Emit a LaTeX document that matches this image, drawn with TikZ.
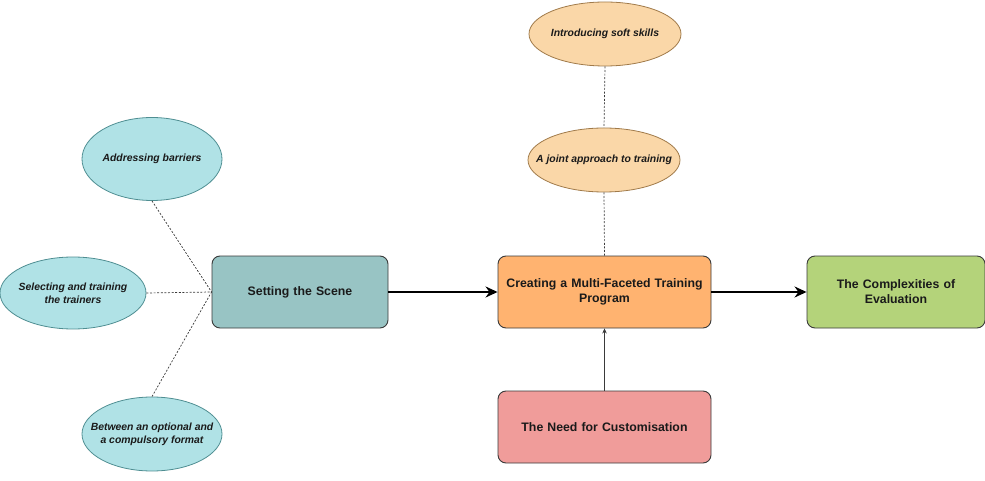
\documentclass[tikz,border=0pt]{standalone}
\usepackage{fontspec}
\setmainfont{Liberation Sans}
\usetikzlibrary{shapes.geometric,arrows.meta}

\definecolor{tealfill}{HTML}{B0E2E6}
\definecolor{tealline}{HTML}{4F8E92}
\definecolor{scenefill}{HTML}{98C4C4}
\definecolor{orangefill}{HTML}{FFB370}
\definecolor{peachfill}{HTML}{FAD7A8}
\definecolor{peachline}{HTML}{A07A4A}
\definecolor{pinkfill}{HTML}{F09C9A}
\definecolor{greenfill}{HTML}{B4D37A}
\definecolor{edgegray}{HTML}{3A3A3A}
\definecolor{inkgray}{HTML}{1A1A1A}

\tikzset{
  topic/.style={draw=edgegray, line width=0.9pt, rounded corners=8pt,
    minimum width=176pt, minimum height=72pt, inner sep=2pt,
    align=center, text width=168pt, font=\fontsize{12.3}{15}\selectfont\bfseries,
    text=inkgray},
  widetopic/.style={topic, minimum width=213pt, text width=205pt},
  idea/.style={ellipse, draw=tealline, line width=0.8pt, fill=tealfill,
    minimum width=142pt, minimum height=78pt, inner xsep=-18pt, inner ysep=0pt,
    align=center, font=\fontsize{10.4}{13.3}\selectfont\bfseries\itshape, text=inkgray},
  peachidea/.style={idea, draw=peachline, fill=peachfill,
    minimum width=152pt, minimum height=64pt},
  link/.style={draw=edgegray, line width=0.7pt, dash pattern=on 2pt off 1.6pt},
  flow/.style={draw=black, line width=1.7pt, -{Stealth[length=12pt,width=11pt]}},
  feed/.style={draw=edgegray, line width=0.7pt, -{Stealth[length=5pt,width=4.5pt]}}
}

\begin{document}
\begin{tikzpicture}[x=1pt, y=-1pt]
  \useasboundingbox (0,0) rectangle (985,481);

  % main chain
  \node[topic, fill=scenefill] (scene) at (300,292) {Setting the Scene};
  \node[widetopic, fill=orangefill] (create) at (604.5,292)
    {Creating a Multi-Faceted Training\\Program};
  \node[topic, fill=greenfill, minimum width=178pt] (eval) at (896,292)
    {The Complexities of\\Evaluation};
  \node[widetopic, fill=pinkfill] (custom) at (604.5,427)
    {The Need for Customisation};

  % sub-themes of the scene
  \node[idea, minimum width=140pt, minimum height=83pt] (barriers) at (152,159) {Addressing barriers};
  \node[idea, minimum width=146pt, minimum height=72pt] (trainers) at (73,293)
    {Selecting and training\\the trainers};
  \node[idea, minimum width=140pt, minimum height=74pt] (format) at (152,434)
    {Between an optional and\\a compulsory format};

  % sub-themes of the programme
  \node[peachidea] (joint) at (604,160) {A joint approach to training};
  \node[peachidea] (soft) at (605,34) {Introducing soft skills};

  \coordinate (hub) at (scene.west);

  % dashed associations
  \draw[link] (barriers.south) -- (hub);
  \draw[link] (trainers.east) -- (hub);
  \draw[link] (format.north) -- (hub);
  \draw[link] (soft.south) -- (joint.north);
  \draw[link] (joint.south) -- (create.north);

  % arrows
  \draw[flow] (scene.east) -- (create.west);
  \draw[flow] (create.east) -- (eval.west);
  \draw[feed] (custom.north) -- (create.south);
\end{tikzpicture}
\end{document}
